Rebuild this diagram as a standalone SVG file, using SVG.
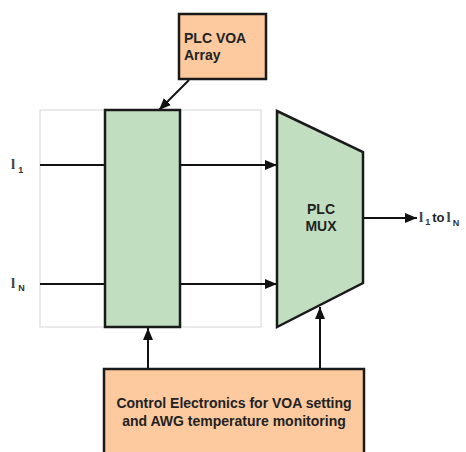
<svg xmlns="http://www.w3.org/2000/svg" width="466" height="452" viewBox="0 0 466 452">
<style>
.box{stroke:#1a1a1a;stroke-width:2.5}
.orange{fill:#FCCA9E}
.green{fill:#C1DFC0}
.lbl{font-family:"Liberation Sans",Arial,sans-serif;font-weight:bold;fill:#222}
.lam{font-family:"Liberation Serif","Times New Roman",serif;font-weight:bold;font-size:15px;fill:#444}
.sub{font-family:"Liberation Sans",Arial,sans-serif;font-weight:bold;font-size:9px;fill:#333}
.conn{stroke:#111;stroke-width:2;fill:none}
</style>
<defs>
<marker id="ah" viewBox="0 0 12 10" refX="12" refY="5" markerWidth="12" markerHeight="10" markerUnits="userSpaceOnUse" orient="auto">
<path d="M0,0 L12,5 L0,10 Z" fill="#111"/>
</marker>
</defs>
<rect id="frame" x="40" y="110" width="221" height="217" fill="none" stroke="#dcdcdc" stroke-width="1.2"/>
<g id="connectors">
<line class="conn" x1="40" y1="165" x2="105" y2="165"/>
<line class="conn" x1="180" y1="165" x2="277" y2="165" marker-end="url(#ah)"/>
<line class="conn" x1="40" y1="284" x2="105" y2="284"/>
<line class="conn" x1="180" y1="284" x2="277" y2="284" marker-end="url(#ah)"/>
<line class="conn" x1="189" y1="80" x2="159" y2="110" marker-end="url(#ah)"/>
<line class="conn" x1="363" y1="218" x2="417" y2="218" marker-end="url(#ah)"/>
<line class="conn" x1="148" y1="369" x2="148" y2="328" marker-end="url(#ah)"/>
<line class="conn" x1="320" y1="369" x2="320" y2="307" marker-end="url(#ah)"/>
</g>
<g id="voa-array-label">
<rect class="box orange" x="179" y="14" width="87" height="65"/>
<text class="lbl" font-size="14" x="184" y="43">PLC VOA</text>
<text class="lbl" font-size="14" x="184" y="60">Array</text>
</g>
<g id="voa">
<rect class="box green" x="105" y="110" width="75" height="217"/>
</g>
<g id="mux">
<path class="box green" d="M277,111 L363,152 L363,283 L277,327 Z"/>
<text class="lbl" font-size="14" x="321" y="214" text-anchor="middle">PLC</text>
<text class="lbl" font-size="14" x="321" y="231" text-anchor="middle">MUX</text>
</g>
<g id="control">
<rect class="box orange" x="104" y="369" width="260" height="90"/>
<text class="lbl" font-size="14" x="234" y="408" text-anchor="middle">Control Electronics for VOA setting</text>
<text class="lbl" font-size="14" x="234" y="426" text-anchor="middle">and AWG temperature monitoring</text>
</g>
<g id="labels">
<text x="11" y="169"><tspan class="lam">l</tspan><tspan class="sub" dx="3" dy="4">1</tspan></text>
<text x="11" y="288"><tspan class="lam">l</tspan><tspan class="sub" dx="3" dy="3">N</tspan></text>
<text x="419" y="222"><tspan class="lam" font-size="13">l</tspan><tspan class="sub" dx="2" dy="3" font-size="8">1</tspan><tspan class="lbl" font-size="13" dx="2" dy="-3">to</tspan><tspan class="lam" font-size="13" dx="2">l</tspan><tspan class="sub" dx="2" dy="4" font-size="8">N</tspan></text>
</g>
</svg>
